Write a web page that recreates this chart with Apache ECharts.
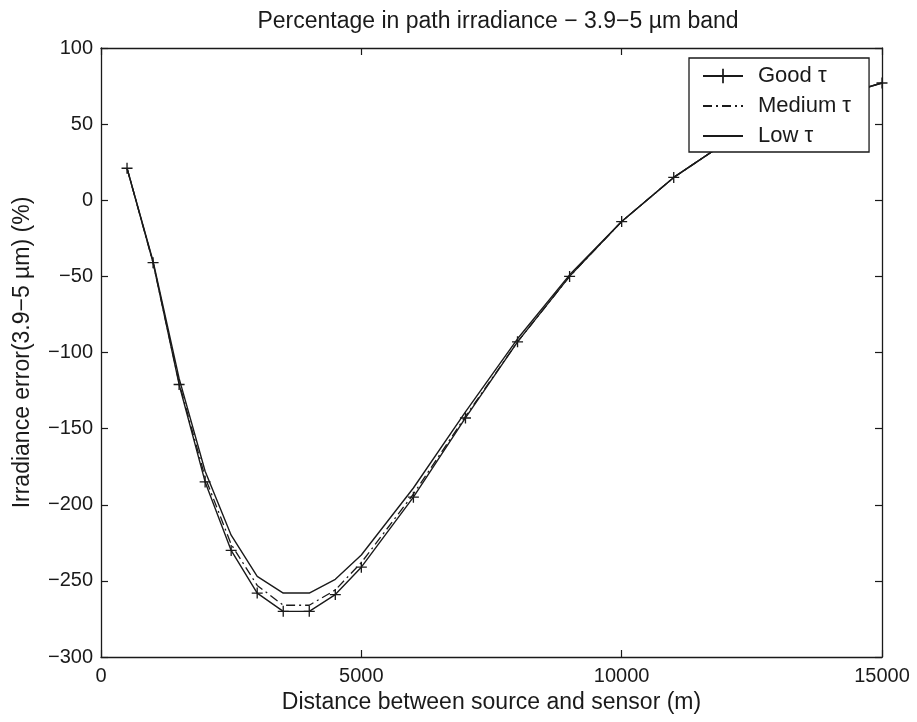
<!DOCTYPE html>
<html>
<head>
<meta charset="utf-8">
<script src="https://cdn.jsdelivr.net/npm/echarts@6/dist/echarts.min.js"></script>
<style>html,body{margin:0;padding:0;background:#fff}#c{width:917px;height:722px}</style>
</head>
<body>
<div id="c"></div>
<script>
const distances = [500, 1000, 1500, 2000, 2500, 3000, 3500, 4000, 4500, 5000, 6000, 7000, 8000, 9000, 10000, 11000, 12000, 13000, 14000, 15000];
const goodTau   = [21, -41, -121, -185, -230, -258, -270, -270, -259, -241, -195, -143, -93, -50, -14, 15, 38, 55, 67, 77];
const mediumTau = [21, -41, -120, -182, -226, -253, -266, -266, -256, -238, -193, -142, -93, -50, -14, 15, 38, 55, 67, 77];
const lowTau    = [21, -40, -117, -178, -220, -247, -258, -258, -249, -233, -189, -139, -91, -49, -14, 15, 38, 55, 67, 77];
const xTicks = [0, 5000, 10000, 15000];
const yTicks = [-300, -250, -200, -150, -100, -50, 0, 50, 100];
const seriesNames = ['Good \u03c4', 'Medium \u03c4', 'Low \u03c4'];

const pair = (vals) => distances.map((d, i) => [d, vals[i]]);
const ink = '#1a1a1a';
const font = '"Liberation Sans", Arial, Helvetica, sans-serif';
const fmt = v => String(v).replace('-', '\u2212');
const crossPath = 'path://M-0.6,-5L0.6,-5L0.6,-0.6L5,-0.6L5,0.6L0.6,0.6L0.6,5L-0.6,5L-0.6,0.6L-5,0.6L-5,-0.6L-0.6,-0.6Z';

const chart = echarts.init(document.getElementById('c'), null, {renderer: 'canvas'});
function axisBase() {
  return {
    axisLine: {show: true, onZero: false, lineStyle: {color: ink, width: 1.3}},
    axisTick: {show: true, inside: true, length: 7, lineStyle: {color: ink, width: 1.2}},
    splitLine: {show: false}
  };
}
const hidden = {color: 'rgba(0,0,0,0)', borderWidth: 0, borderColor: 'rgba(0,0,0,0)'};
chart.setOption({
  backgroundColor: '#fff',
  animation: false,
  title: {
    text: 'Percentage in path irradiance \u2212 3.9\u22125 \u00b5m band',
    left: 493, top: 5, textAlign: 'center',
    textStyle: {fontFamily: font, fontSize: 23, fontWeight: 'normal', color: ink}
  },
  grid: {left: 101, right: 35, top: 48, bottom: 65, containLabel: false},
  legend: {
    data: [
      {name: seriesNames[0]},
      {name: seriesNames[1], itemStyle: hidden},
      {name: seriesNames[2], itemStyle: hidden}
    ],
    left: 689, top: 58,
    orient: 'vertical',
    backgroundColor: '#fff',
    borderColor: ink, borderWidth: 1.3, borderRadius: 0,
    padding: [7, 18, 5, 13],
    itemGap: 8, itemWidth: 40, itemHeight: 18,
    textStyle: {fontFamily: font, fontSize: 22, color: ink, padding: [0, 0, 0, 10]},
    z: 10
  },
  xAxis: [
    Object.assign(axisBase(), {
      type: 'value', min: 0, max: 15000, interval: 5000,
      name: 'Distance between source and sensor (m)',
      nameLocation: 'middle', nameGap: 34,
      nameTextStyle: {fontFamily: font, fontSize: 23, color: ink},
      axisLabel: {fontFamily: font, fontSize: 20, color: ink, margin: 9, formatter: fmt}
    }),
    Object.assign(axisBase(), {
      type: 'value', min: 0, max: 15000, interval: 5000, position: 'top',
      axisLabel: {show: false}
    })
  ],
  yAxis: [
    Object.assign(axisBase(), {
      type: 'value', min: -300, max: 100, interval: 50,
      name: 'Irradiance error(3.9\u22125 \u00b5m) (%)',
      nameLocation: 'middle', nameGap: 67, nameRotate: 90,
      nameTextStyle: {fontFamily: font, fontSize: 23, color: ink},
      axisLabel: {fontFamily: font, fontSize: 20, color: ink, margin: 8, formatter: fmt}
    }),
    Object.assign(axisBase(), {
      type: 'value', min: -300, max: 100, interval: 50, position: 'right',
      axisLabel: {show: false}
    })
  ],
  series: [
    {
      name: seriesNames[0], type: 'line', data: pair(goodTau),
      symbol: crossPath, symbolSize: 11, showSymbol: true,
      itemStyle: {color: ink},
      lineStyle: {color: ink, width: 1.4}, z: 3
    },
    {
      name: seriesNames[1], type: 'line', data: pair(mediumTau),
      symbol: 'none',
      itemStyle: {color: ink},
      lineStyle: {color: ink, width: 1.3, type: [9, 4, 2, 4]}, z: 2
    },
    {
      name: seriesNames[2], type: 'line', data: pair(lowTau),
      symbol: 'none',
      itemStyle: {color: ink},
      lineStyle: {color: ink, width: 1.4}, z: 2
    }
  ]
});
</script>
</body>
</html>
